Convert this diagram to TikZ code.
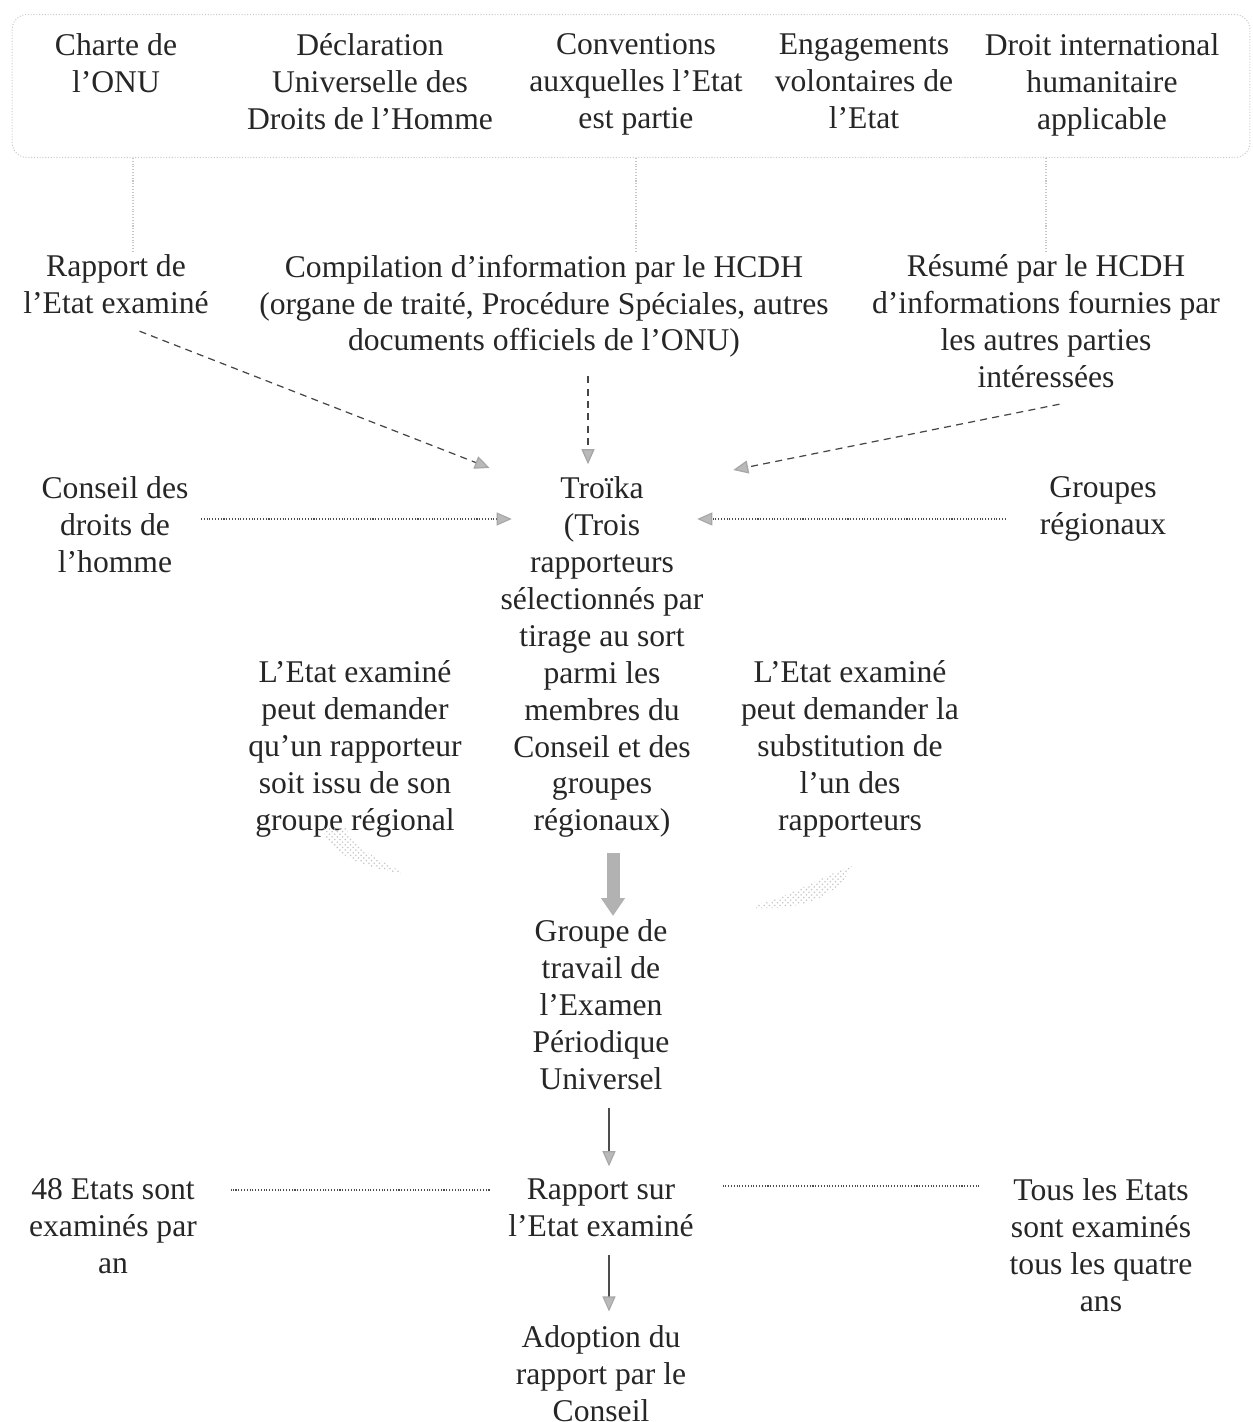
\documentclass[tikz,border=0pt]{standalone}
\usepackage{fontspec}
\setmainfont{Liberation Serif}
\usetikzlibrary{arrows.meta,patterns}
\begin{document}
\begin{tikzpicture}[x=0.02cm,y=-0.02cm,
  txt/.style={anchor=north,align=center,text=black!85,font=\fontsize{18}{21}\selectfont,inner sep=2pt,execute at begin node=\strut},
  vline/.style={draw=gray!45,densely dotted,line width=0.6pt},
  tip/.style={-{Triangle[length=0.3cm,width=0.26cm,fill=gray!55,color=gray!70]}},
  dasharr/.style={tip,draw=gray!55!black,dash pattern=on 4pt off 3pt,line width=0.7pt},
  dotarr/.style={tip,draw=gray!60!black,densely dotted,line width=0.6pt},
  dotline/.style={draw=gray!60!black,densely dotted,line width=0.6pt},
  solarr/.style={tip,draw=gray!60!black,line width=0.6pt},
  bigarr/.style={-{Triangle[length=0.36cm,width=0.46cm]},draw=gray!60,line width=0.26cm},
  faint/.style={pattern=crosshatch dots,pattern color=gray!45,draw=none}
]
\useasboundingbox (0,0) rectangle (1253,1422);
% top container
\node[draw=gray!40,densely dotted,line width=0.6pt,rounded corners=0.3cm,minimum width=24.76cm,minimum height=2.86cm] (topbox) at (631,86) {};
\node[txt] (charte) at (116,30) {Charte de\\l’ONU};
\node[txt] (decl) at (370,30) {Déclaration\\Universelle des\\Droits de l’Homme};
\node[txt] (conv) at (636,30) {Conventions\\auxquelles l’Etat\\est partie};
\node[txt] (eng) at (864,30) {Engagements\\volontaires de\\l’Etat};
\node[txt] (droit) at (1102,30) {Droit international\\humanitaire\\applicable};
% second row
\node[txt] (rapport) at (116,251) {Rapport de\\l’Etat examiné};
\node[txt] (compil) at (544,251) {Compilation d’information par le HCDH\\(organe de traité, Procédure Spéciales, autres\\documents officiels de l’ONU)};
\node[txt] (resume) at (1046,251) {Résumé par le HCDH\\d’informations fournies par\\les autres parties\\intéressées};
% middle
\node[txt] (conseil) at (115,473) {Conseil des\\droits de\\l’homme};
\node[txt] (troika) at (602,473) {Troïka\\(Trois\\rapporteurs\\sélectionnés par\\tirage au sort\\parmi les\\membres du\\Conseil et des\\groupes\\régionaux)};
\node[txt] (groupes) at (1103,473) {Groupes\\régionaux};
\node[txt] (gauche) at (355,657) {L’Etat examiné\\peut demander\\qu’un rapporteur\\soit issu de son\\groupe régional};
\node[txt] (droite) at (850,657) {L’Etat examiné\\peut demander la\\substitution de\\l’un des\\rapporteurs};
% lower
\node[txt] (gt) at (601,916) {Groupe de\\travail de\\l’Examen\\Périodique\\Universel};
\node[txt] (rse) at (601,1175) {Rapport sur\\l’Etat examiné};
\node[txt] (etats) at (113,1175) {48 Etats sont\\examinés par\\an};
\node[txt] (tous) at (1101,1175) {Tous les Etats\\sont examinés\\tous les quatre\\ans};
\node[txt] (adopt) at (601,1322) {Adoption du\\rapport par le\\Conseil};
% faint vertical connectors from top box
\draw[vline] ([xshift=0.34cm]rapport.north |- topbox.south) -- ([xshift=0.34cm]rapport.north);
\draw[vline] (conv.south |- topbox.south) -- (conv.south |- compil.north);
\draw[vline] (resume.north |- topbox.south) -- (resume.north);
% dashed arrows to troika
\draw[dasharr,shorten <=4pt] ([xshift=0.34cm]rapport.south) -- ([xshift=-0.14cm,yshift=0.1cm]troika.north west);
\draw[dasharr,shorten <=6pt,shorten >=5pt] ([xshift=0.88cm]compil.south) -- ([xshift=0.88cm]compil.south |- troika.north);
\draw[dasharr,shorten <=5pt] ([xshift=0.44cm]resume.south) -- ([xshift=0.52cm,yshift=0.06cm]troika.north east);
% dotted arrows
\draw[dotarr,shorten <=5pt,shorten >=-0.3cm] ([yshift=-0.92cm]conseil.north east) -- ([yshift=-0.92cm]conseil.north east -| troika.west);
\draw[dotarr,shorten <=0.6cm,shorten >=-0.2cm] ([yshift=-0.92cm]groupes.north west) -- ([yshift=-0.92cm]groupes.north west -| troika.east);
% faint curved marks
\path[faint] (322,828) .. controls (332,858) and (368,868) .. (405,874) .. controls (378,858) and (352,848) .. (346,828) -- cycle;
\path[faint] (756,908) .. controls (800,910) and (838,898) .. (852,866) .. controls (826,874) and (792,896) .. (756,905) -- cycle;
% thick arrow
\draw[bigarr,shorten <=4pt] ([xshift=0.22cm]troika.south) -- ([xshift=0.22cm]troika.south |- gt.north);
% solid arrows
\draw[solarr,shorten <=2pt,shorten >=5pt] ([xshift=0.16cm]gt.south) -- ([xshift=0.16cm]gt.south |- rse.north);
\draw[solarr,shorten <=2pt,shorten >=6pt] ([xshift=0.16cm]rse.south) -- ([xshift=0.16cm]rse.south |- adopt.north);
% dotted lines
\draw[dotline,shorten <=0.3cm,shorten >=0.6cm] ([yshift=-0.3cm]rse.north west) -- ([yshift=-0.3cm]rse.north west -| etats.east);
\draw[dotline,shorten <=0.5cm,shorten >=0.5cm] ([yshift=-0.22cm]rse.north east) -- ([yshift=-0.22cm]rse.north east -| tous.west);
\end{tikzpicture}
\end{document}
